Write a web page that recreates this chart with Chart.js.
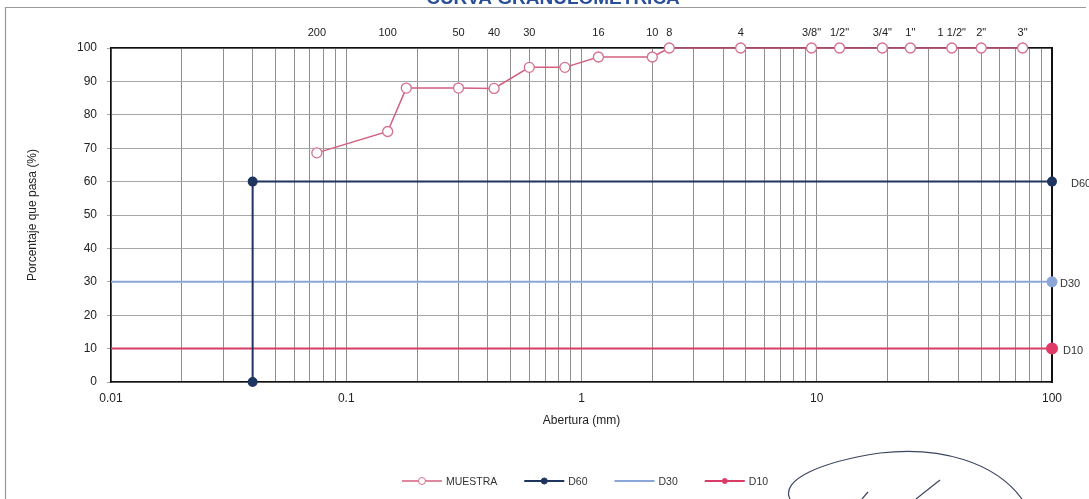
<!DOCTYPE html>
<html>
<head>
<meta charset="utf-8">
<script src="https://cdn.jsdelivr.net/npm/chart.js@4.4.0/dist/chart.umd.min.js"></script>
<style>
  html, body { margin: 0; padding: 0; background: #ffffff; }
  #wrap { width: 1089px; height: 499px; position: relative; }
</style>
</head>
<body>
<div id="wrap"><canvas id="c" width="1089" height="499"></canvas></div>
<script>
// Gradation curve: sieve openings (mm) and percent passing
const chartTitle = 'CURVA GRANULOMETRICA';
const openingsMm = [0.075, 0.15, 0.18, 0.3, 0.425, 0.6, 0.85, 1.18, 2.0, 2.36, 4.75, 9.5, 12.5, 19, 25, 37.5, 50, 75];
const percentPassing = [68.6, 75.0, 88.0, 88.0, 87.9, 94.2, 94.2, 97.3, 97.3, 100, 100, 100, 100, 100, 100, 100, 100, 100];

// Sieve names shown along the top axis
const sieveLabels = ['200', '100', '50', '40', '30', '16', '10', '8', '4', '3/8"', '1/2"', '3/4"', '1"', '1 1/2"', '2"', '3"'];
const sieveOpenings = [0.075, 0.15, 0.3, 0.425, 0.6, 1.18, 2.0, 2.36, 4.75, 9.5, 12.5, 19, 25, 37.5, 50, 75];

// Reference lines D60 / D30 / D10
const d60X = [0.04, 0.04, 100];
const d60Y = [0, 60, 60];
const d30X = [0.01, 100];
const d30Y = [30, 30];
const d10X = [0.01, 100];
const d10Y = [10, 10];

// Axis ticks
const yTickValues = [0, 10, 20, 30, 40, 50, 60, 70, 80, 90, 100];
const xDecades = [0.01, 0.1, 1, 10, 100];
const minorSteps = [1, 2, 3, 4, 5, 6, 7, 8, 9];

const FONT = '"Liberation Sans", Arial, Helvetica, sans-serif';

function toPoints(xs, ys) { return xs.map((x, i) => ({ x: x, y: ys[i] })); }

// log grid: 1..9 x each decade, labelled on the decades only
const xGridValues = [];
xDecades.forEach((d, i) => {
  if (i === xDecades.length - 1) { xGridValues.push(d); return; }
  minorSteps.forEach(m => xGridValues.push(+(m * d).toPrecision(3)));
});

const decorPlugin = {
  id: 'decor',
  afterDraw(chart) {
    const ctx = chart.ctx;
    ctx.save();

    // outer frame
    ctx.strokeStyle = '#9a9a9a';
    ctx.lineWidth = 1.2;
    ctx.beginPath();
    ctx.moveTo(5.5, 499);
    ctx.lineTo(5.5, 7.5);
    ctx.lineTo(1086, 7.5);
    ctx.stroke();

    // heading, partly above the page edge
    ctx.fillStyle = '#2a4f9a';
    ctx.font = 'bold 19px ' + FONT;
    ctx.textAlign = 'center';
    ctx.textBaseline = 'alphabetic';
    ctx.fillText(chartTitle, 553, 4);

    // series names next to the right-hand end of each reference line
    ctx.font = '11px ' + FONT;
    ctx.fillStyle = '#333333';
    ctx.textAlign = 'left';
    ctx.textBaseline = 'middle';
    const tagOffsets = { D60: 19, D30: 8, D10: 11 };
    chart.data.datasets.forEach((ds, i) => {
      if (!(ds.label in tagOffsets)) return;
      const meta = chart.getDatasetMeta(i);
      const last = meta.data[meta.data.length - 1];
      ctx.fillText(ds.label, last.x + tagOffsets[ds.label], last.y + 2);
    });

    // legend row
    ctx.font = '10.5px ' + FONT;
    const symW = 40, gapTxt = 4, gapItem = 27, cx = 585, ly = 481;
    const items = chart.data.datasets.map(ds => ({ ds: ds, w: symW + gapTxt + ctx.measureText(ds.label).width }));
    const total = items.reduce((a, b) => a + b.w, 0) + gapItem * (items.length - 1);
    let x = cx - total / 2;
    items.forEach(it => {
      const ds = it.ds;
      ctx.strokeStyle = ds.borderColor;
      ctx.lineWidth = ds.borderWidth;
      ctx.beginPath();
      ctx.moveTo(x, ly);
      ctx.lineTo(x + symW, ly);
      ctx.stroke();
      if (ds.legendRadius) {
        ctx.beginPath();
        ctx.arc(x + symW / 2, ly, ds.legendRadius, 0, Math.PI * 2);
        ctx.fillStyle = ds.legendFill;
        ctx.fill();
        ctx.lineWidth = 1;
        ctx.strokeStyle = ds.pointBorderColor;
        ctx.stroke();
      }
      ctx.fillStyle = '#333333';
      ctx.fillText(ds.label, x + symW + gapTxt, ly + 1);
      x += it.w + gapItem;
    });

    // signature stroke
    ctx.strokeStyle = '#3b4660';
    ctx.lineWidth = 1.2;
    ctx.beginPath();
    ctx.moveTo(790, 499);
    ctx.bezierCurveTo(780, 480, 820, 462, 880, 453);
    ctx.bezierCurveTo(940, 446, 995, 462, 1022, 499);
    ctx.stroke();
    ctx.beginPath();
    ctx.moveTo(916, 499);
    ctx.lineTo(940, 480);
    ctx.stroke();
    ctx.beginPath();
    ctx.moveTo(862, 499);
    ctx.lineTo(868, 492);
    ctx.stroke();

    ctx.restore();
  }
};

new Chart(document.getElementById('c'), {
  type: 'scatter',
  data: {
    datasets: [
      {
        label: 'MUESTRA',
        data: toPoints(openingsMm, percentPassing),
        showLine: true,
        borderColor: '#d2607f',
        borderWidth: 1.5,
        pointRadius: 5,
        pointBorderWidth: 1.3,
        pointBackgroundColor: '#ffffff',
        pointBorderColor: '#d4708f',
        legendRadius: 3.5,
        legendFill: '#ffffff',
        clip: false,
        order: 0
      },
      {
        label: 'D60',
        data: toPoints(d60X, d60Y),
        showLine: true,
        borderColor: '#1f3560',
        borderWidth: 2,
        pointRadius: 4,
        pointBackgroundColor: '#1f3560',
        pointBorderColor: '#1f3560',
        legendRadius: 3,
        legendFill: '#1f3560',
        clip: false,
        order: 1
      },
      {
        label: 'D30',
        data: toPoints(d30X, d30Y),
        showLine: true,
        borderColor: '#8ba6d8',
        borderWidth: 2,
        pointRadius: [0, 4.5],
        pointBackgroundColor: '#8ba6d8',
        pointBorderColor: '#8ba6d8',
        legendRadius: 0,
        clip: false,
        order: 2
      },
      {
        label: 'D10',
        data: toPoints(d10X, d10Y),
        showLine: true,
        borderColor: '#d83c66',
        borderWidth: 2,
        pointRadius: [0, 5],
        pointBackgroundColor: '#e03a68',
        pointBorderColor: '#e03a68',
        legendRadius: 2.5,
        legendFill: '#d83c66',
        clip: false,
        order: 3
      }
    ]
  },
  options: {
    responsive: false,
    animation: false,
    devicePixelRatio: 1,
    layout: { padding: 0 },
    plugins: {
      legend: { display: false },
      tooltip: { enabled: false }
    },
    scales: {
      x: {
        type: 'logarithmic',
        position: 'bottom',
        min: 0.01,
        max: 100,
        afterBuildTicks(s) { s.ticks = xGridValues.map(v => ({ value: v })); },
        afterFit(s) { s.height = 117; },
        ticks: {
          autoSkip: false,
          maxRotation: 0,
          padding: 9,
          color: '#222222',
          font: { family: FONT, size: 12 },
          callback(v) { return xDecades.includes(v) ? String(v) : ''; }
        },
        grid: { color: '#8e8e8e', lineWidth: 1, drawTicks: false },
        border: { display: true, color: '#111111', width: 1.5 },
        title: {
          display: true,
          text: 'Abertura (mm)',
          color: '#222222',
          font: { family: FONT, size: 12 },
          padding: { top: 0, bottom: 71 }
        }
      },
      x2: {
        type: 'logarithmic',
        position: 'top',
        min: 0.01,
        max: 100,
        afterBuildTicks(s) { s.ticks = sieveOpenings.map(v => ({ value: v })); },
        afterFit(s) { s.height = 48; },
        ticks: {
          autoSkip: false,
          maxRotation: 0,
          padding: 8,
          color: '#222222',
          font: { family: FONT, size: 11 },
          callback(v, i) { return sieveLabels[i]; }
        },
        grid: { display: false, drawTicks: false },
        border: { display: true, color: '#111111', width: 1.5 }
      },
      y: {
        type: 'linear',
        position: 'left',
        min: 0,
        max: 100,
        afterBuildTicks(s) { s.ticks = yTickValues.map(v => ({ value: v })); },
        afterFit(s) { s.width = 111; },
        ticks: {
          padding: 10,
          color: '#222222',
          font: { family: FONT, size: 12 }
        },
        grid: { color: '#a6a6a6', lineWidth: 1, drawTicks: true, tickLength: 4 },
        border: { display: true, color: '#111111', width: 1.5 },
        title: {
          display: true,
          text: 'Porcentaje que pasa (%)',
          color: '#222222',
          font: { family: FONT, size: 12 },
          padding: { top: 25, bottom: 0 }
        }
      },
      y2: {
        type: 'linear',
        position: 'right',
        min: 0,
        max: 100,
        afterFit(s) { s.width = 37; },
        ticks: { display: false },
        grid: { display: false, drawTicks: false },
        border: { display: true, color: '#111111', width: 2 }
      }
    }
  },
  plugins: [decorPlugin]
});
</script>
</body>
</html>
